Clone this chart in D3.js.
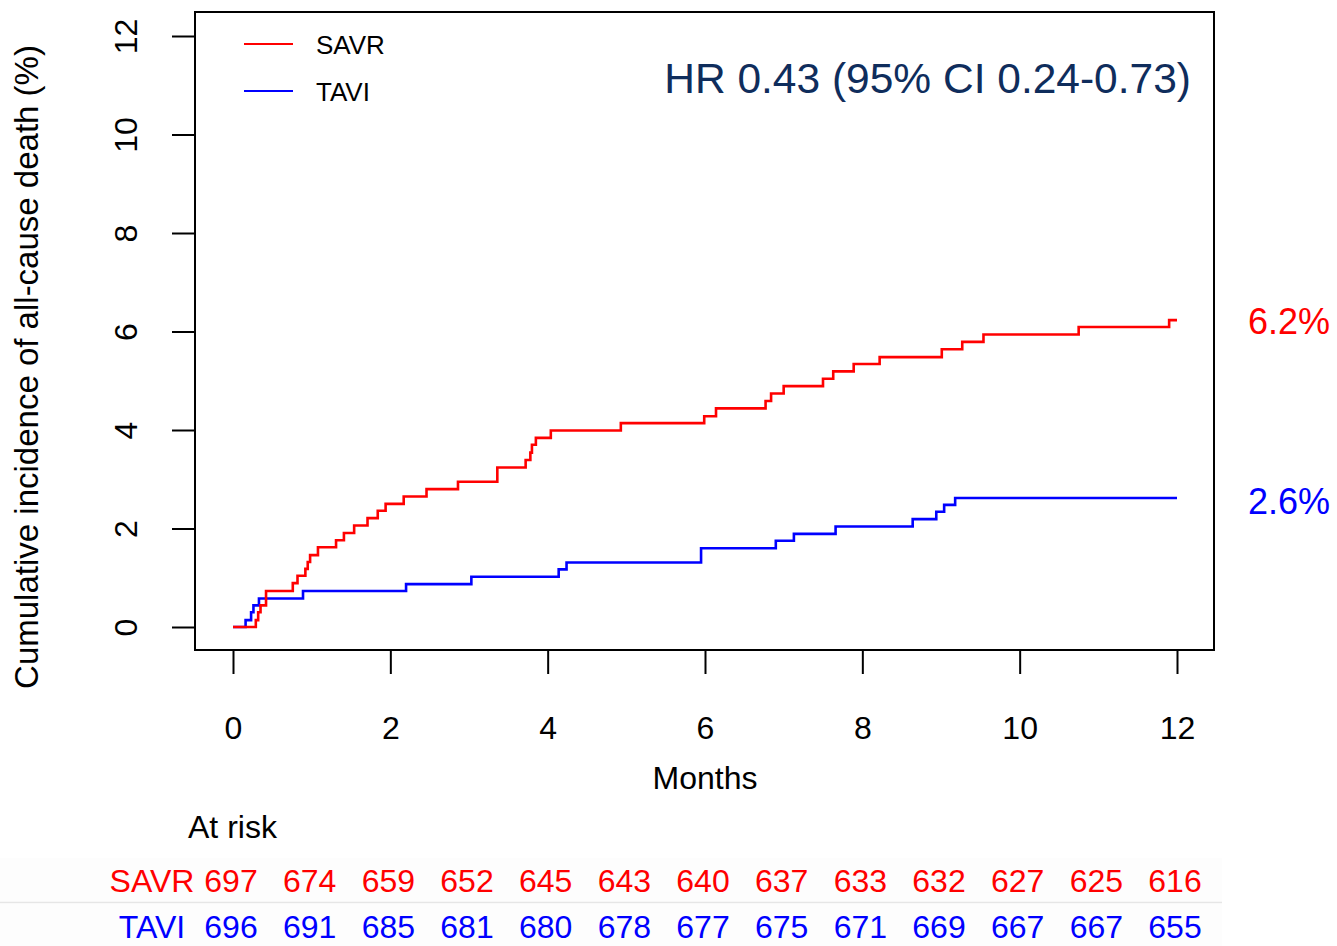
<!DOCTYPE html>
<html>
<head>
<meta charset="utf-8">
<script src="https://cdn.jsdelivr.net/npm/d3@7"></script>
<style>
  body { margin: 0; background: #fff; }
  svg text { font-family: "Liberation Sans", Arial, sans-serif; }
</style>
</head>
<body>
<div class="km"></div>
<script>
// DATA -----------------------------------

// SAVR step times (months) and cumulative incidence (%) after each step
var savrTimes = [0, 0.29, 0.32, 0.35, 0.42, 0.76, 0.82, 0.92, 0.95, 0.98, 1.08, 1.31, 1.41, 1.54, 1.71, 1.84, 1.94,
  2.17, 2.46, 2.86, 3.36, 3.72, 3.78, 3.80, 3.85, 4.04, 4.93, 5.99, 6.14, 6.77, 6.84, 7.00, 7.50, 7.63, 7.89,
  8.22, 9.01, 9.27, 9.54, 10.75, 11.90];
var savrValues = [0, 0.14, 0.30, 0.44, 0.73, 0.89, 1.04, 1.18, 1.32, 1.46, 1.62, 1.76, 1.91, 2.06, 2.21, 2.36, 2.50,
  2.65, 2.80, 2.95, 3.24, 3.39, 3.54, 3.70, 3.84, 3.99, 4.14, 4.28, 4.44, 4.59, 4.74, 4.89, 5.04, 5.19, 5.34,
  5.48, 5.64, 5.79, 5.94, 6.09, 6.23];

// TAVI step times and values
var taviTimes = [0, 0.16, 0.23, 0.26, 0.33, 0.89, 2.20, 3.03, 4.14, 4.24, 5.95, 6.90, 7.13, 7.66, 8.64, 8.94, 9.04, 9.18];
var taviValues = [0, 0.14, 0.30, 0.44, 0.58, 0.73, 0.87, 1.02, 1.17, 1.31, 1.60, 1.75, 1.89, 2.04, 2.19, 2.34, 2.48, 2.62];

var followUpEnd = 12;

// tick labels
var xTicks = [0, 2, 4, 6, 8, 10, 12];
var yTicks = [0, 2, 4, 6, 8, 10, 12];

// numbers at risk, one per month
var riskMonths = [0, 1, 2, 3, 4, 5, 6, 7, 8, 9, 10, 11, 12];
var savrAtRisk = [697, 674, 659, 652, 645, 643, 640, 637, 633, 632, 627, 625, 616];
var taviAtRisk = [696, 691, 685, 681, 680, 678, 677, 675, 671, 669, 667, 667, 655];

var hrText = "HR 0.43 (95% CI 0.24-0.73)";
var savrFinal = "6.2%";
var taviFinal = "2.6%";

// SET UP SVG ELEMENT -----------------------------------

var svgWidth = 1337;
var svgHeight = 946;

// plot box (R style frame)
var box = { left: 195, top: 12, right: 1214, bottom: 650 };

var svg = d3.select(".km")
  .append("svg")
  .attr("width", svgWidth)
  .attr("height", svgHeight);

var xScale = d3.scaleLinear()
  .domain([0, 12])
  .range([233, 1177]);

var yScale = d3.scaleLinear()
  .domain([0, 12])
  .range([627, 36]);

// AXES -----------------------------------

// x axis below the box
var xAxis = svg.append("g")
  .attr("transform", `translate(0, ${box.bottom})`)
  .call(d3.axisBottom(xScale).tickValues(xTicks).tickSize(24).tickFormat(d3.format("d")));
xAxis.select(".domain").remove();
xAxis.selectAll("line").attr("stroke", "#000").attr("stroke-width", 2);
xAxis.selectAll("text")
  .attr("font-size", 32)
  .attr("fill", "#000")
  .attr("dy", 0)
  .attr("y", 89);

// y axis left of the box, labels rotated like R's default
var yAxis = svg.append("g")
  .attr("transform", `translate(${box.left}, 0)`)
  .call(d3.axisLeft(yScale).tickValues(yTicks).tickSize(23).tickFormat(d3.format("d")));
yAxis.select(".domain").remove();
yAxis.selectAll("line").attr("stroke", "#000").attr("stroke-width", 2);
yAxis.selectAll("text")
  .attr("font-size", 32)
  .attr("fill", "#000")
  .attr("text-anchor", "middle")
  .attr("x", null)
  .attr("dy", null)
  .attr("transform", "translate(-58, 0) rotate(-90)");

// frame
svg.append("rect")
  .attr("x", box.left)
  .attr("y", box.top)
  .attr("width", box.right - box.left)
  .attr("height", box.bottom - box.top)
  .attr("fill", "none")
  .attr("stroke", "#000")
  .attr("stroke-width", 2);

// axis titles
svg.append("text")
  .attr("x", xScale(6))
  .attr("y", 789)
  .attr("text-anchor", "middle")
  .attr("font-size", 32)
  .text("Months");

svg.append("text")
  .attr("transform", "translate(38, 367) rotate(-90)")
  .attr("text-anchor", "middle")
  .attr("font-size", 33)
  .text("Cumulative incidence of all-cause death (%)");

// CURVES -----------------------------------

function stepData(times, values) {
  var pts = times.map((t, i) => ({ t: t, v: values[i] }));
  pts.push({ t: followUpEnd, v: values[values.length - 1] });
  return pts;
}

var stepLine = d3.line()
  .x(d => xScale(d.t))
  .y(d => yScale(d.v))
  .curve(d3.curveStepAfter);

svg.append("path")
  .datum(stepData(taviTimes, taviValues))
  .attr("d", stepLine)
  .attr("fill", "none")
  .attr("stroke", "#0000ff")
  .attr("stroke-width", 2.6);

svg.append("path")
  .datum(stepData(savrTimes, savrValues))
  .attr("d", stepLine)
  .attr("fill", "none")
  .attr("stroke", "#ff0000")
  .attr("stroke-width", 2.6);

// LEGEND + ANNOTATIONS -----------------------------------

var legendItems = [
  { name: "SAVR", color: "#ff0000", y: 44 },
  { name: "TAVI", color: "#0000ff", y: 91 }
];

legendItems.forEach(function(item) {
  svg.append("line")
    .attr("x1", 244).attr("x2", 293)
    .attr("y1", item.y).attr("y2", item.y)
    .attr("stroke", item.color)
    .attr("stroke-width", 2);
  svg.append("text")
    .attr("x", 316)
    .attr("y", item.y + 10)
    .attr("font-size", 26)
    .text(item.name);
});

svg.append("text")
  .attr("x", 1191)
  .attr("y", 93)
  .attr("text-anchor", "end")
  .attr("font-size", 42.5)
  .attr("fill", "#0f2d5c")
  .text(hrText);

// final estimates on the right margin
svg.append("text")
  .attr("x", 1330)
  .attr("y", yScale(savrValues[savrValues.length - 1]) + 14)
  .attr("text-anchor", "end")
  .attr("font-size", 36)
  .attr("fill", "#ff0000")
  .text(savrFinal);

svg.append("text")
  .attr("x", 1330)
  .attr("y", yScale(taviValues[taviValues.length - 1]) + 16)
  .attr("text-anchor", "end")
  .attr("font-size", 36)
  .attr("fill", "#0000ff")
  .text(taviFinal);

// AT RISK TABLE -----------------------------------

svg.append("text")
  .attr("x", 188)
  .attr("y", 838)
  .attr("font-size", 32)
  .text("At risk");

// faint row backgrounds and separator
svg.append("rect")
  .attr("x", 0).attr("y", 858)
  .attr("width", 1222).attr("height", 44)
  .attr("fill", "#fdfdfd");
svg.append("rect")
  .attr("x", 0).attr("y", 904)
  .attr("width", 1222).attr("height", 42)
  .attr("fill", "#fdfdfd");
svg.append("line")
  .attr("x1", 0).attr("x2", 1222)
  .attr("y1", 902.5).attr("y2", 902.5)
  .attr("stroke", "#e6e6e6")
  .attr("stroke-width", 1.5);

var riskRows = [
  { name: "SAVR", color: "#ff0000", values: savrAtRisk, y: 892 },
  { name: "TAVI", color: "#0000ff", values: taviAtRisk, y: 938 }
];

riskRows.forEach(function(row) {
  svg.append("text")
    .attr("x", 152)
    .attr("y", row.y)
    .attr("text-anchor", "middle")
    .attr("font-size", 32)
    .attr("fill", row.color)
    .text(row.name);

  svg.selectAll(null)
    .data(row.values)
    .enter()
    .append("text")
    .attr("x", (d, i) => xScale(riskMonths[i]) - 2)
    .attr("y", row.y)
    .attr("text-anchor", "middle")
    .attr("font-size", 32)
    .attr("fill", row.color)
    .text(d => d);
});
</script>
</body>
</html>
